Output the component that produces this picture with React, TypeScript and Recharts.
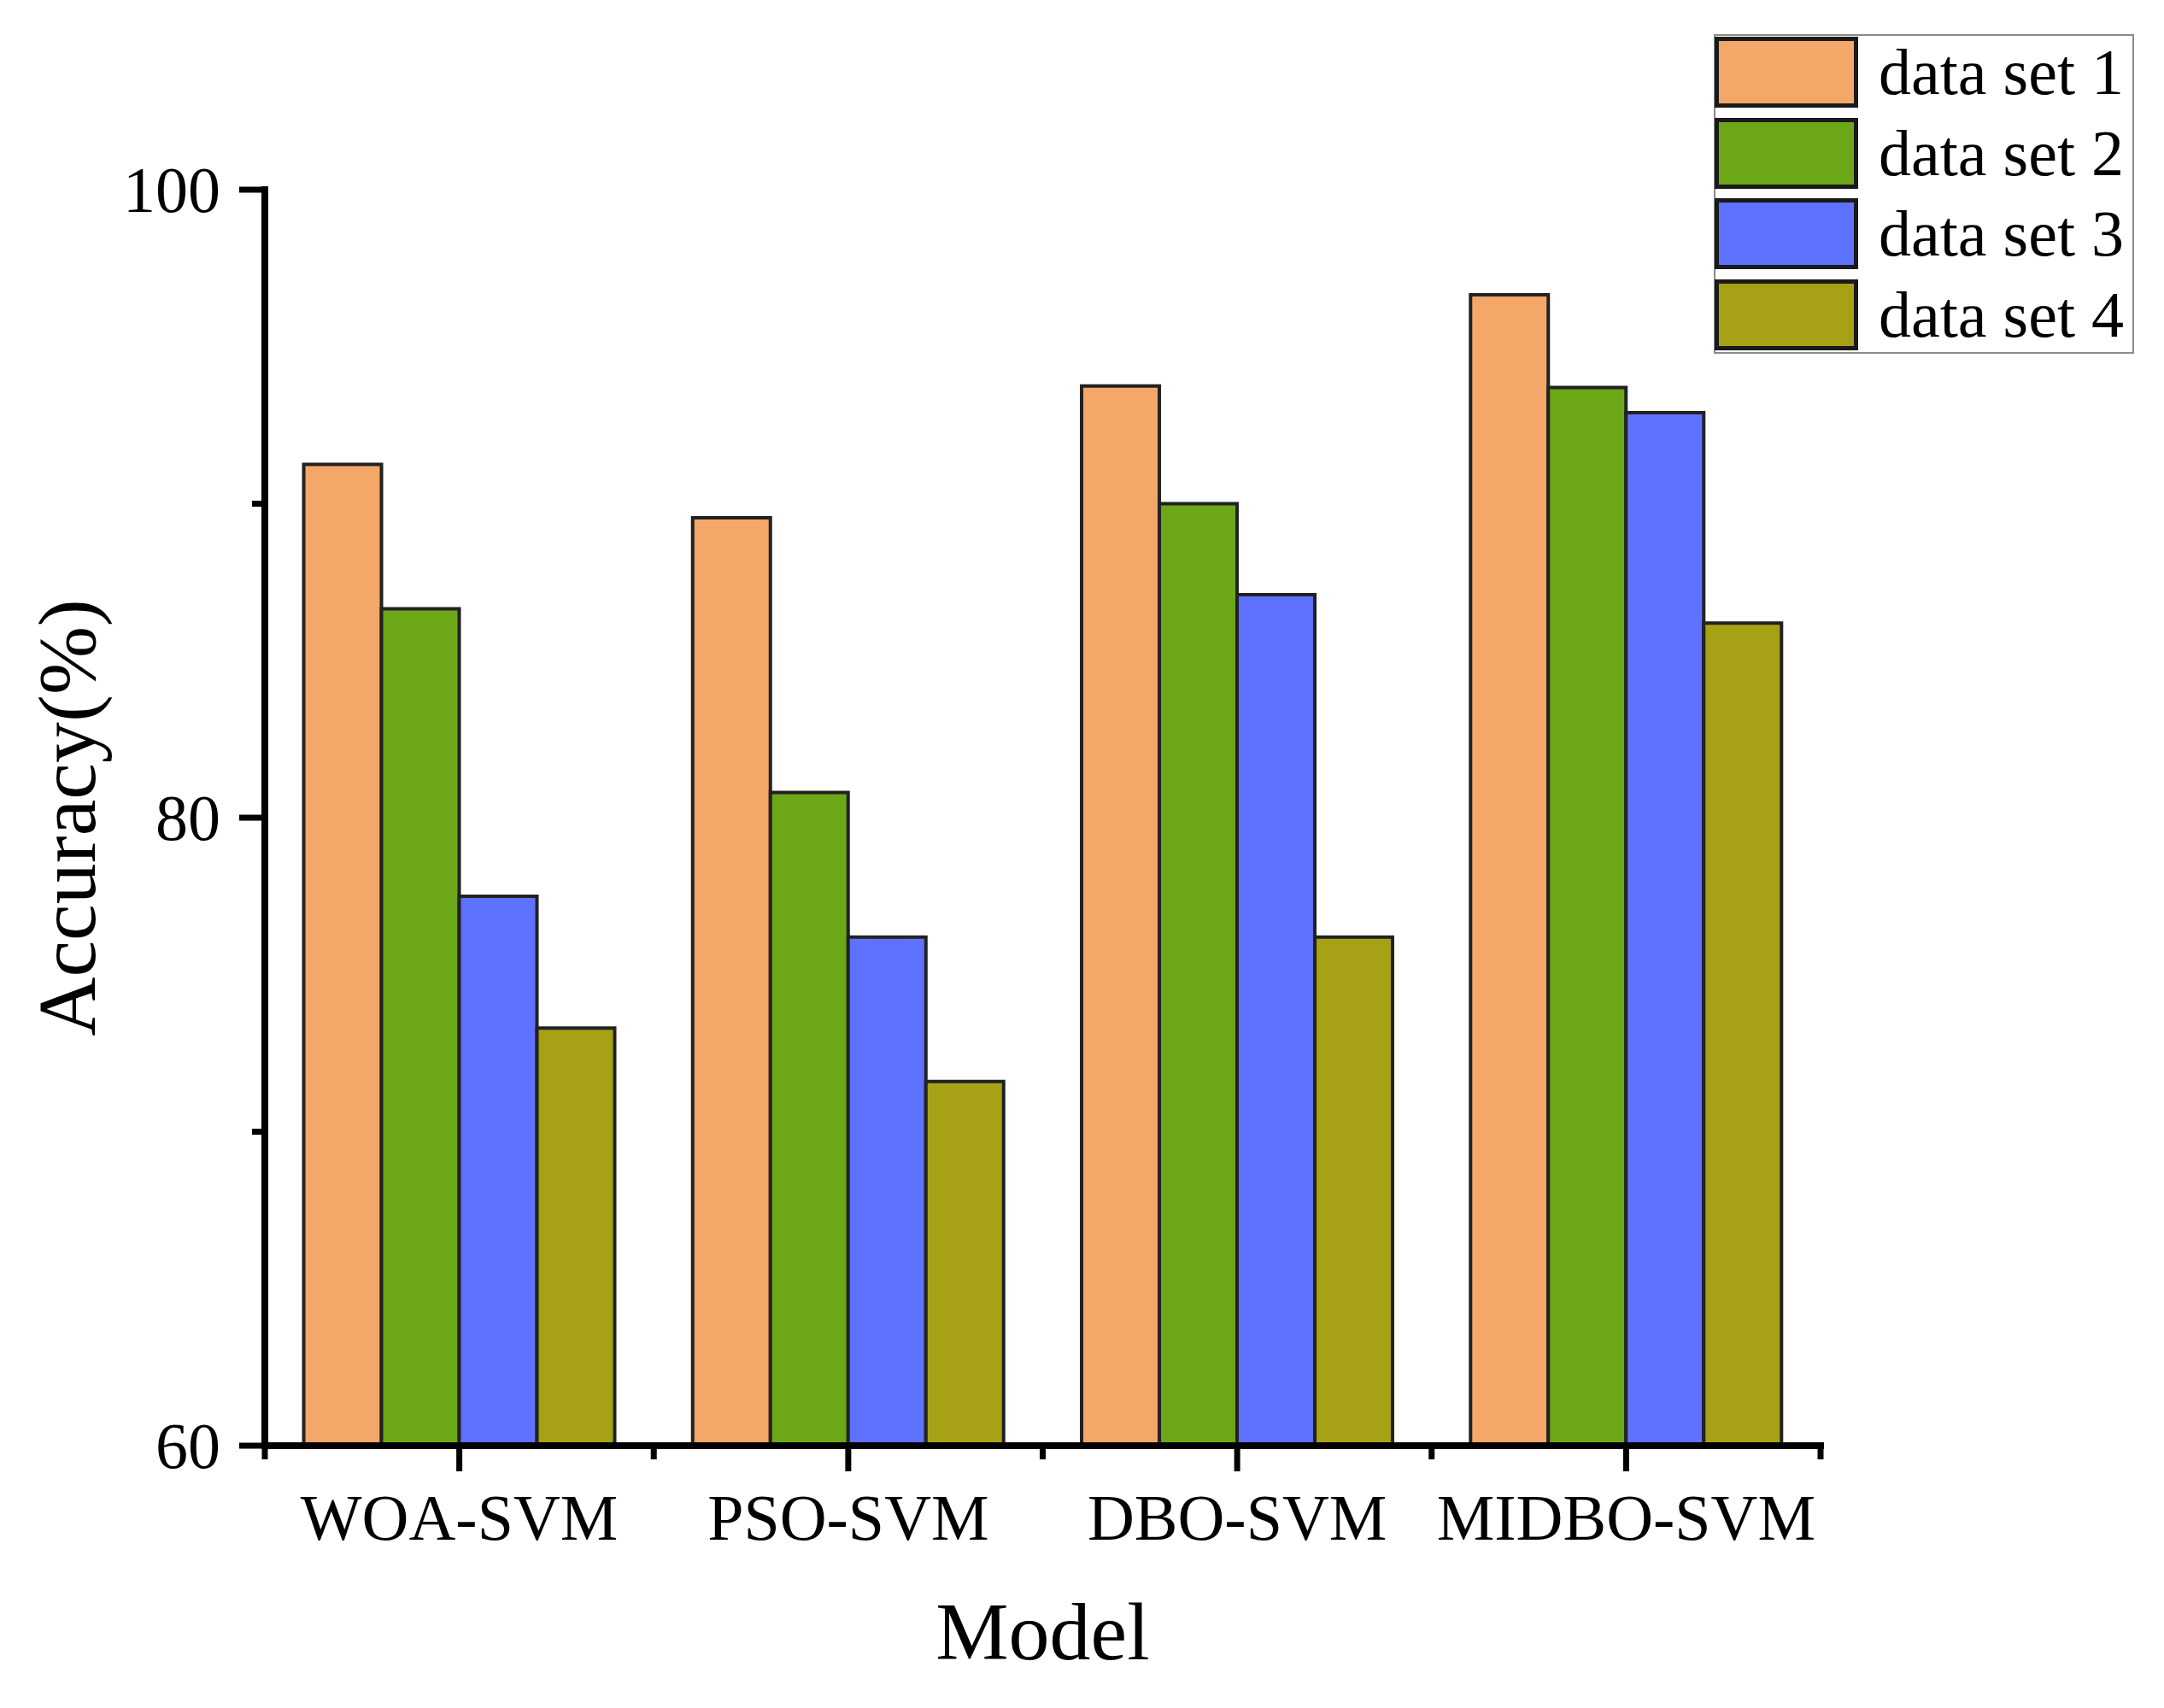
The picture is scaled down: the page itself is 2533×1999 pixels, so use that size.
import React from 'react';
import { BarChart, Bar, XAxis, YAxis, Legend, Label } from 'recharts';

const models = ['WOA-SVM', 'PSO-SVM', 'DBO-SVM', 'MIDBO-SVM'];
const dataSet1 = [91.25, 89.55, 93.75, 96.65];
const dataSet2 = [86.65, 80.8, 90.0, 93.7];
const dataSet3 = [77.5, 76.2, 87.1, 92.9];
const dataSet4 = [73.3, 71.6, 76.2, 86.2];
const seriesNames = ['data set 1', 'data set 2', 'data set 3', 'data set 4'];
const seriesColors = ['#F3A768', '#6BA716', '#5F72FF', '#A7A116'];
const yTicks = [60, 70, 80, 90, 100];
const yLabelTicks = [60, 80, 100];

const data = models.map((model, i) => ({
  model,
  s1: dataSet1[i],
  s2: dataSet2[i],
  s3: dataSet3[i],
  s4: dataSet4[i],
}));
const seriesKeys = ['s1', 's2', 's3', 's4'];

const FONT = "'Liberation Serif', 'Times New Roman', serif";
const W = 2533;
const H = 1999;
const PLOT_LEFT = 310;
const PLOT_RIGHT = 2131;
const PLOT_TOP = 222;
const PLOT_BOTTOM = 1692;
const Y_AXIS_W = 150;
const X_AXIS_H = 120;
const BAND = (PLOT_RIGHT - PLOT_LEFT) / models.length;

const YTick = (props: any) => {
  const { x, y, payload } = props;
  const major = yLabelTicks.includes(payload.value);
  const len = major ? 30 : 15;
  return (
    <g>
      <line x1={x - len} x2={x} y1={y} y2={y} stroke="#000" strokeWidth={7} />
      {major && (
        <text x={x - len - 22} y={y + 26} textAnchor="end" fontSize={76} fontFamily={FONT} fill="#000">
          {payload.value}
        </text>
      )}
    </g>
  );
};

const XTick = (props: any) => {
  const { x, y, payload } = props;
  const half = BAND / 2;
  const isLast = payload.value === models[models.length - 1];
  return (
    <g>
      <line x1={x} x2={x} y1={y} y2={y + 30} stroke="#000" strokeWidth={7} />
      <line x1={x - half} x2={x - half} y1={y} y2={y + 16} stroke="#000" strokeWidth={7} />
      {isLast && <line x1={x + half} x2={x + half} y1={y} y2={y + 16} stroke="#000" strokeWidth={7} />}
      <text x={x} y={y + 110} textAnchor="middle" fontSize={76} fontFamily={FONT} fill="#000">
        {payload.value}
      </text>
    </g>
  );
};

const renderLegend = (props: any) => {
  const payload = props.payload || [];
  return (
    <div
      style={{
        position: 'relative',
        width: 492,
        height: 374,
        border: '2px solid #8a8a8a',
        boxSizing: 'border-box',
        background: '#fff',
      }}
    >
      {payload.map((entry: any, i: number) => (
        <div
          key={entry.value}
          style={{ position: 'absolute', left: -1, top: 1 + i * 94.5, height: 83, display: 'flex', alignItems: 'center' }}
        >
          <div
            style={{
              width: 168,
              height: 83,
              boxSizing: 'border-box',
              border: '5px solid #1a1a1a',
              background: entry.color,
            }}
          />
          <span
            style={{
              marginLeft: 24,
              fontSize: 76,
              fontFamily: FONT,
              lineHeight: '83px',
              color: '#000',
              whiteSpace: 'nowrap',
            }}
          >
            {entry.value}
          </span>
        </div>
      ))}
    </div>
  );
};

export default function App() {
  return (
    <div style={{ width: W, height: H, background: '#fff' }}>
      <style>{'body{margin:0;background:#fff}'}</style>
      <BarChart
        width={W}
        height={H}
        data={data}
        margin={{
          top: PLOT_TOP,
          left: PLOT_LEFT - Y_AXIS_W,
          right: W - PLOT_RIGHT,
          bottom: H - PLOT_BOTTOM - X_AXIS_H,
        }}
        barCategoryGap="10%"
        barGap={0}
      >
        <XAxis
          dataKey="model"
          height={X_AXIS_H}
          interval={0}
          tickSize={0}
          tickMargin={0}
          tick={<XTick />}
          axisLine={{ stroke: '#000', strokeWidth: 8, strokeLinecap: 'square' }}
          tickLine={false}
        >
          <Label
            content={() => (
              <text x={(PLOT_LEFT + PLOT_RIGHT) / 2} y={1942} textAnchor="middle" fontSize={96} fontFamily={FONT} fill="#000">
                Model
              </text>
            )}
          />
        </XAxis>
        <YAxis
          width={Y_AXIS_W}
          domain={[60, 100]}
          ticks={yTicks}
          interval={0}
          tickSize={0}
          tickMargin={0}
          tick={<YTick />}
          axisLine={{ stroke: '#000', strokeWidth: 8, strokeLinecap: 'square' }}
          tickLine={false}
        >
          <Label
            content={() => (
              <text
                x={111}
                y={957}
                transform="rotate(-90 111 957)"
                textAnchor="middle"
                fontSize={96}
                fontFamily={FONT}
                fill="#000"
              >
                Accuracy(%)
              </text>
            )}
          />
        </YAxis>
        <Legend
          layout="vertical"
          align="center"
          verticalAlign="middle"
          content={renderLegend}
          wrapperStyle={{ left: 2006, top: 40, width: 492, height: 374 }}
        />
        {seriesKeys.map((key, i) => (
          <Bar
            key={key}
            dataKey={key}
            name={seriesNames[i]}
            fill={seriesColors[i]}
            stroke="#222"
            strokeWidth={4}
            isAnimationActive={false}
          />
        ))}
      </BarChart>
    </div>
  );
}
